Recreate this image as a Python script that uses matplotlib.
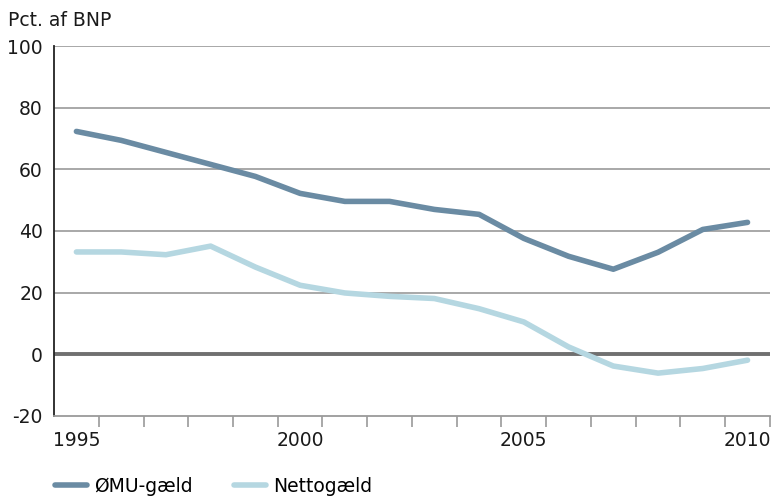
import numpy as np
import matplotlib.pyplot as plt
from matplotlib.lines import Line2D

plt.rcParams['font.family'] = ['DejaVu Sans']

years = list(range(1995, 2011))
omu_gaeld = [72.3, 69.4, 65.5, 61.6, 57.7, 52.2, 49.6, 49.6, 47.0, 45.4,
             37.6, 31.8, 27.6, 33.1, 40.5, 42.8]
nettogaeld = [33.2, 33.2, 32.3, 35.1, 28.3, 22.4, 19.9, 18.8, 18.1, 14.8,
              10.5, 2.4, -3.8, -6.1, -4.6, -1.9]
year_labels = ['1995', '2000', '2005', '2010']
y_ticks = [-20, 0, 20, 40, 60, 80, 100]

c_omu = '#6a8ba3'
c_net = '#b5d7e1'
fs = 13.5

fig = plt.figure(figsize=(7.73, 4.98), dpi=100)
ax = fig.add_axes([0.0699, 0.1647, 0.9261, 0.7429])

x = np.arange(len(years))
ax.set_xlim(-0.5, len(years) - 0.5)
ax.set_ylim(-20, 100)

for v in y_ticks[2:]:
    ax.axhline(v, color='#9a9a9a', lw=1.2, zorder=1)
ax.axhline(0, color='#707070', lw=2.8, zorder=1)

ax.plot(x, omu_gaeld, color=c_omu, lw=4, solid_capstyle='round',
        solid_joinstyle='round', zorder=3)
ax.plot(x, nettogaeld, color=c_net, lw=4, solid_capstyle='round',
        solid_joinstyle='round', zorder=3)

for s in ['top', 'right']:
    ax.spines[s].set_visible(False)
ax.spines['left'].set_color('#222222')
ax.spines['left'].set_linewidth(1.3)
ax.spines['bottom'].set_color('#9a9a9a')
ax.spines['bottom'].set_linewidth(1.3)

ax.set_yticks(y_ticks)
ax.set_yticklabels([str(v) for v in y_ticks])
ax.tick_params(axis='y', length=0, pad=8, labelsize=fs, labelcolor='#1a1a1a')

# year labels centred in each band, tick marks on band borders
ax.set_xticks([years.index(int(y)) for y in year_labels])
ax.set_xticklabels(year_labels)
ax.tick_params(axis='x', which='major', length=0, pad=11, labelsize=fs,
               labelcolor='#1a1a1a')
ax.set_xticks(np.arange(0.5, len(years), 1.0), minor=True)
ax.tick_params(axis='x', which='minor', length=8, width=1.2, color='#9a9a9a')

fig.text(0.01, 0.958, 'Pct. af BNP', fontsize=fs, color='#1a1a1a', va='center')

handles = [Line2D([0], [0], color=c_omu, lw=4, solid_capstyle='round'),
           Line2D([0], [0], color=c_net, lw=4, solid_capstyle='round')]
fig.legend(handles, ['ØMU-gæld', 'Nettogæld'], loc='center left',
           bbox_to_anchor=(0.059, 0.024), ncol=2, frameon=False, borderpad=0,
           fontsize=fs, handlelength=1.7, columnspacing=2.2, handletextpad=0.4)

fig.savefig('out.png', dpi=100)
